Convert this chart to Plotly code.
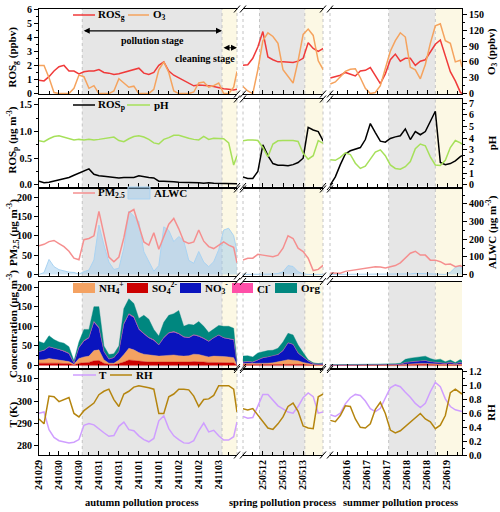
import pandas as pd
import plotly.graph_objects as go

FONT = "Liberation Serif"
W, H = 500, 512

# ---------------- time stamps (3-hourly readings) ----------------
aut_t = list(pd.date_range("2024-10-29 12:00", periods=40, freq="3h")) + [pd.Timestamp("2024-11-03 11:00")]
spr_t = list(pd.date_range("2025-05-12 00:00", periods=17, freq="3h"))
sum_t = list(pd.date_range("2025-06-16 02:00", periods=27, freq="3h")) + [pd.Timestamp("2025-06-19 09:00")]
TIMES = [aut_t, spr_t, sum_t]

# range start, pollution-stage start, cleaning-stage start, range end
aut_stage = ["2024-10-29 11:59", "2024-10-30 14:00", "2024-11-03 02:00", "2024-11-03 11:00"]
spr_stage = ["2025-05-12 00:10", "2025-05-12 10:00", "2025-05-13 13:00", "2025-05-13 23:50"]
sum_stage = ["2025-06-16 01:48", "2025-06-17 13:00", "2025-06-18 17:00", "2025-06-19 09:00"]
STAGES = [aut_stage, spr_stage, sum_stage]
process_labels = ["autumn pollution process", "spring pollution process", "summer pollution process"]

# ---------------- panel 1 ----------------
ROSg_aut = [0.95,0.9,1.2,1.6,1.9,2.0,1.6,1.6,1.4,1.55,1.6,1.6,1.7,1.5,1.45,1.35,1.4,1.5,1.65,1.75,
            1.8,1.45,1.35,1.5,2.0,2.25,1.6,1.3,1.1,0.9,0.7,0.55,0.6,0.6,0.55,0.5,0.4,0.35,0.3,0.25,0.3]
ROSg_spr = [2.0,2.05,2.5,3.3,4.4,2.6,2.4,2.25,2.25,2.2,2.2,2.3,2.5,3.6,3.2,3.0,3.2]
ROSg_sum = [1.1,1.2,1.3,1.5,1.4,1.25,1.6,1.65,1.85,1.3,0.7,1.4,2.4,2.8,2.3,2.5,2.5,2.0,2.3,2.4,
            3.0,3.5,3.8,2.6,1.55,0.9,0.1,0.0]
O3_aut = [53,53,30,2,0,0,0,10,35,32,10,15,0,0,0,5,28,20,12,14,0,0,0,8,45,60,40,5,0,0,
          0,3,20,22,12,15,20,0,0,12,42]
O3_spr = [14,5,0,45,100,115,108,95,45,32,20,62,112,122,110,62,45]
O3_sum = [18,22,32,42,46,47,30,10,0,2,15,47,80,100,115,107,50,45,28,55,95,128,132,100,95,60,63,50]

# ---------------- panel 2 ----------------
ROSp_aut = [0.07,0.04,0.05,0.07,0.09,0.11,0.14,0.18,0.22,0.26,0.3,0.2,0.17,0.16,0.15,0.14,0.13,0.14,0.14,0.14,
            0.17,0.15,0.14,0.13,0.07,0.07,0.07,0.06,0.05,0.05,0.04,0.04,0.04,0.03,0.04,0.03,0.03,0.02,0.02,0.02,0.02]
ROSp_spr = [0.15,0.12,0.12,0.25,0.75,0.55,0.4,0.37,0.37,0.36,0.38,0.42,0.5,1.08,1.03,1.0,0.82]
ROSp_sum = [0.0,0.15,0.38,0.58,0.64,0.67,0.7,0.85,1.15,0.98,0.82,0.8,0.87,0.9,0.92,1.05,0.85,1.0,0.94,1.0,
            1.2,1.38,0.42,0.38,0.4,0.45,0.53,0.55]
pH_aut = [3.78,3.7,3.95,4.15,4.2,4.1,3.95,3.85,3.9,3.85,3.9,3.85,3.9,3.95,4.05,4.1,3.8,3.7,3.95,4.15,
          4.2,4.1,3.9,3.6,3.5,3.9,4.05,4.25,4.25,4.1,4.0,3.9,3.85,4.15,3.9,4.0,3.95,3.95,3.6,1.7,2.5]
pH_spr = [3.78,3.85,3.85,3.8,3.2,2.4,3.5,3.78,3.8,3.82,3.8,3.72,2.7,2.2,2.5,3.8,3.55]
pH_sum = [2.15,2.1,2.35,2.75,2.6,1.85,1.4,1.6,2.2,2.8,3.0,2.5,1.7,1.4,1.33,1.55,2.0,3.1,3.5,3.35,
          2.4,1.7,1.65,2.1,3.2,3.8,3.6,3.5]

# ---------------- panel 3 ----------------
PM_aut = [74,78,85,88,80,72,60,42,38,90,93,100,163,100,45,33,45,95,160,168,125,84,76,108,65,98,130,145,118,86,
          80,84,115,86,72,67,75,84,76,70,30]
PM_spr = [37,42,42,52,50,47,46,50,68,100,93,68,59,42,10,13,24]
PM_sum = [4,3,3,8,10,13,15,17,18,20,19,17,20,23,30,42,55,60,50,50,37,37,33,26,27,20,23,20]
ALWC_aut = [0,10,85,44,27,18,13,11,2,15,25,82,280,167,70,28,35,150,360,330,300,129,70,18,50,270,250,186,215,190,
            80,63,130,70,44,72,140,252,262,220,130]
ALWC_spr = [0,0,0,0,0,0,2,5,15,50,45,15,3,0,0,0,0]
ALWC_sum = [0,0,0,0,0,0,0,0,0,0,0,0,0,0,0,0,3,6,5,3,0,0,0,0,12,40,50,30]

# ---------------- panel 4 (species concentrations) ----------------
SO4_aut = [6,6,7,7,6,5,5,2,6,7,8,12,13,6,3,3,5,9,14,13,11,10,9,9,8,8,9,9,9,8,9,10,10,9,8,8,8,8,8,7,0.5]
NH4_aut = [8,9,11,9,8,7,5,1,12,15,16,26,27,9,3,3,9,19,30,27,22,19,18,17,16,17,17,18,16,16,16,19,18,16,14,16,16,15,14,13,0.5]
NO3_aut = [21,23,29,28,26,24,20,3,27,40,46,72,55,20,10,14,21,77,86,82,59,51,43,38,28,45,56,58,55,48,45,48,46,43,39,46,53,47,46,45,1]
Cl_aut = [1,1,1,1,1,1,1,0.5,1,1.5,1.5,2,2,1,0.5,0.5,1,2,2,2,1.5,1.5,1.5,1.5,1,1.5,1.5,1.5,1.5,1.5,1.5,1.5,1.5,1.5,1,1,1,1,1,1,0.2]
Org_aut = [25,18,28,21,19,20,17,5.5,14,28.5,20.5,38,53,14,11.5,9.5,14,38,38,34,26.5,46.5,46.5,26.5,22,38.5,44.5,45.5,58.5,26.5,
           33.5,24.5,36.5,30.5,22,21,24,29,31,29,1]
SO4_spr = [2.5,2.5,2.5,2.5,2.5,3,3,3,3.5,4,4,3.5,3,2,1,1,1]
NH4_spr = [2.5,2.5,2.5,2.5,2.5,3,4,6,8.5,11,10,8.5,5,3,1.5,1,1]
NO3_spr = [3.5,4.5,3.5,9.5,14.5,15.5,18.5,18.5,25.5,42.5,39.5,19.5,13.5,6.7,2.3,1.8,2.8]
Cl_spr = [0.5,0.5,0.5,0.5,0.5,0.5,0.5,0.5,0.5,0.5,0.5,0.5,0.5,0.3,0.2,0.2,0.2]
Org_spr = [15,15,13,17,15,16,13,16,22,24,24,20,11,3,2,1,2]
SO4_sum = [0.5,0.5,0.5,0.5,0.6,0.6,0.6,0.6,0.7,0.6,0.6,0.6,0.7,0.8,1.0,2,2.5,3,3,3,2.5,2,2,1.5,2,1.5,2,1.5]
NH4_sum = [0.3,0.3,0.3,0.3,0.3,0.3,0.4,0.4,0.5,0.4,0.4,0.4,0.4,0.5,0.8,1.5,2,2,2.5,2.5,2,2,2,1.5,2,1,2,1.5]
NO3_sum = [0.2,0.2,0.2,0.3,0.3,0.3,0.3,0.3,0.4,0.3,0.3,0.3,0.4,0.5,1.0,4,5,5.5,6,7,5,4,4,2.5,4,2,4,3]
Cl_sum = [0.1,0.1,0.1,0.1,0.1,0.1,0.1,0.1,0.1,0.1,0.1,0.1,0.1,0.1,0.2,0.3,0.3,0.3,0.3,0.3,0.3,0.3,0.3,0.2,0.3,0.2,0.3,0.2]
Org_sum = [0.8,1.0,1.0,1.2,1.5,1.5,1.8,2.0,2.5,1.8,1.6,1.8,2.0,2.5,3.0,8,9,9.5,10,11,8,6,8,4,6,3,7,6]

# ---------------- panel 5 ----------------
T_aut = [294.4,295,287,283.5,282,281.5,281,281.3,282.5,289,289.8,289.2,287.2,285.6,284,284.3,288.5,290.4,287,286.5,
         284.2,282.5,281.5,283,291,293.3,287.5,284.2,282.5,281,280.8,282,286.5,290,286,286.7,284.2,282.3,282.3,283.8,290.5]
T_spr = [293,292.2,292.5,297.8,303,303,300.5,297.8,296.4,295,294.5,297.5,301.5,303.7,302,294.5,295]
T_sum = [293.8,293,294.5,298.7,301.5,303,302.5,300,296.5,295.2,296.7,301,306,307.3,306.5,304,301.7,298.9,297,299,
         304.2,308.4,306.5,301,297.5,296,295.2,295.2]
RH_aut = [0.52,0.45,0.85,0.84,0.77,0.8,0.83,0.6,0.55,0.64,0.69,0.75,0.87,0.92,0.95,0.8,0.7,0.88,0.92,0.98,
          1.0,0.99,0.97,0.95,0.6,0.6,0.84,0.88,0.95,0.95,0.94,0.85,0.7,0.8,0.81,0.86,1.0,1.0,1.0,0.95,0.62]
RH_spr = [0.67,0.65,0.67,0.58,0.49,0.39,0.37,0.45,0.55,0.7,0.75,0.63,0.42,0.39,0.38,0.84,0.88]
RH_sum = [0.5,0.48,0.57,0.71,0.7,0.52,0.4,0.39,0.45,0.66,0.76,0.6,0.36,0.32,0.35,0.41,0.47,0.53,0.6,0.52,
          0.48,0.38,0.43,0.57,0.9,0.95,0.9,0.88]

# ---------------- layout geometry (pixels) ----------------
COLS = [(39, 237), (243, 323), (330, 462)]
ROWS = [(9, 94), (99, 186.5), (189, 276), (281.5, 367.5), (369.5, 455)]
LEFT_TITLE_Y = [57, 140, 232.5, 324.5, 415]
PROCESS_X = [142, 282, 400]
GRAY, YELLOW, DOT = "#e6e6e6", "#fcf8e4", "#c4c4c4"

def px(x): return x / W
def py(y): return 1 - y / H
def akey(p, n): return f"{p}axis" if n == 1 else f"{p}axis{n}"
def aref(p, n): return p if n == 1 else f"{p}{n}"

C = dict(ROSg="#f03a3a", O3="#f5a35e", ROSp="#000000", pH="#a6e05a", PM="#f58f8f",
         ALWC_line="#a9d3f2", ALWC_fill="rgba(150,200,238,0.45)",
         NH4="#f4a262", SO4="#cc0000", NO3="#0a14be", Cl="#ff4fa8", Org="#00877f",
         T="#cf9eff", RH="#b5850f")

# legend layout: (symbol start, symbol end, text start) in px, row legend centre y
ROW_SPECS = [
    dict(base="left", leg_y=15,
         left=dict(range=[-0.03, 6], dtick=1, minor=0.5, fmt="d", title="ROS<sub>g</sub> (ppbv)"),
         right=dict(range=[-0.8, 160], dtick=30, minor=15, fmt="d", title="O<sub>3</sub> (ppbv)"),
         series=[("ROS<sub>g</sub>", [ROSg_aut, ROSg_spr, ROSg_sum], C["ROSg"], "left", "line", (73, 95, 96)),
                 ("O<sub>3</sub>", [O3_aut, O3_spr, O3_sum], C["O3"], "right", "line", (128, 149, 151))]),
    dict(base="left", leg_y=105,
         left=dict(range=[-0.03, 1.61], dtick=0.5, minor=0.25, fmt=".1f", title="ROS<sub>p</sub> (μg m<sup>-3</sup>)"),
         right=dict(range=[-0.15, 7.37], dtick=1, minor=0.5, fmt="d", title="pH"),
         series=[("ROS<sub>p</sub>", [ROSp_aut, ROSp_spr, ROSp_sum], C["ROSp"], "left", "line", (73, 95, 96)),
                 ("pH", [pH_aut, pH_spr, pH_sum], C["pH"], "right", "line", (127, 150, 152))]),
    dict(base="right", leg_y=193,
         left=dict(range=[-4, 221], dtick=50, minor=25, fmt="d", title="PM<sub>2.5</sub> (μg m<sup>-3</sup>)"),
         right=dict(range=[-9, 485], dtick=100, minor=50, fmt="d", title="ALWC (μg m<sup>-3</sup>)"),
         series=[("ALWC", [ALWC_aut, ALWC_spr, ALWC_sum], C["ALWC_line"], "right", "area", (128, 150, 152)),
                 ("PM<sub>2.5</sub>", [PM_aut, PM_spr, PM_sum], C["PM"], "left", "line", (73, 95, 96))]),
    dict(base="left", leg_y=288,
         left=dict(range=[-5, 214], dtick=50, minor=25, fmt="d", title="Concentration (μg m<sup>-3</sup>)"),
         right=dict(range=[-5, 214], dtick=50, minor=25, fmt="d", title="", ticks="inside", labels=False),
         series=[("SO<sub>4</sub><sup>2-</sup>", [SO4_aut, SO4_spr, SO4_sum], C["SO4"], "left", "stack", (127, 148, 150)),
                 ("NH<sub>4</sub><sup>+</sup>", [NH4_aut, NH4_spr, NH4_sum], C["NH4"], "left", "stack", (73, 95, 97)),
                 ("NO<sub>3</sub><sup>-</sup>", [NO3_aut, NO3_spr, NO3_sum], C["NO3"], "left", "stack", (180, 201, 203)),
                 ("Cl<sup>-</sup>", [Cl_aut, Cl_spr, Cl_sum], C["Cl"], "left", "stack", (232, 253, 255)),
                 ("Org", [Org_aut, Org_spr, Org_sum], C["Org"], "left", "stack", (275, 297, 299))]),
    dict(base="left", leg_y=375,
         left=dict(range=[275.5, 314.3], dtick=10, minor=5, fmt="d", title="T (K)"),
         right=dict(range=[0, 1.234], dtick=0.2, minor=0.1, fmt=".1f", title="RH"),
         series=[("T", [T_aut, T_spr, T_sum], C["T"], "left", "line", (73, 96, 97)),
                 ("RH", [RH_aut, RH_spr, RH_sum], C["RH"], "right", "line", (110, 132, 134))]),
]

TICKFONT = dict(family=FONT, size=10, color="black", weight="bold")
TXT11 = dict(family=FONT, size=11, color="black", weight="bold")

def yaxis_dict(s, side, c):
    shown = (side == "left" and c == 0) or (side == "right" and c == 2)
    d = dict(range=s["range"], side=side, showgrid=False, zeroline=False, fixedrange=True)
    if shown:
        tk = s.get("ticks", "outside")
        d.update(showline=True, linecolor="black", linewidth=1, ticks=tk, ticklen=4,
                 tickcolor="black", tick0=0, dtick=s["dtick"], tickformat=s["fmt"],
                 showticklabels=s.get("labels", True), tickfont=TICKFONT,
                 minor=dict(dtick=s["minor"], ticks=tk, ticklen=2, tickcolor="black"))
    else:
        d.update(showline=False, ticks="", showticklabels=False)
    return d

layout = dict(width=W, height=H, margin=dict(l=0, r=0, t=0, b=0), autosize=False,
              paper_bgcolor="white", plot_bgcolor="white", template="none", showlegend=False,
              font=dict(family=FONT, size=10, color="black", weight="bold"))
shapes, annotations, traces = [], [], []

for r, spec in enumerate(ROW_SPECS):
    top, bot = ROWS[r]
    over_side = "right" if spec["base"] == "left" else "left"
    for c in range(3):
        i = r * 3 + c
        xn, yb, yo = i + 1, i + 1, i + 16
        st = STAGES[c]
        layout[akey("x", xn)] = dict(
            domain=[px(COLS[c][0]), px(COLS[c][1])], anchor=aref("y", yb), type="date",
            range=[st[0], st[3]], showline=True, mirror=True, linecolor="black", linewidth=1,
            ticks="inside", ticklen=4, tickcolor="black", tick0="2024-10-29", dtick=43200000,
            tickformat="%y%m%d", showticklabels=(r == 4), tickangle=-90, tickfont=TICKFONT,
            minor=dict(dtick=21600000, ticks="inside", ticklen=3, tickcolor="black"),
            showgrid=False, zeroline=False, fixedrange=True)
        yb_d = yaxis_dict(spec[spec["base"]], spec["base"], c)
        yb_d.update(domain=[py(bot), py(top)], anchor=aref("x", xn))
        layout[akey("y", yb)] = yb_d
        yo_d = yaxis_dict(spec[over_side], over_side, c)
        yo_d.update(overlaying=aref("y", yb), anchor=aref("x", xn))
        layout[akey("y", yo)] = yo_d

        xr, ydom = aref("x", xn), aref("y", yb) + " domain"
        shapes.append(dict(type="rect", xref=xr, yref=ydom, x0=st[1], x1=st[2], y0=0, y1=1,
                           fillcolor=GRAY, line=dict(width=0), layer="below"))
        shapes.append(dict(type="rect", xref=xr, yref=ydom, x0=st[2], x1=st[3], y0=0, y1=1,
                           fillcolor=YELLOW, line=dict(width=0), layer="below"))
        for xv in (st[1], st[2]):
            shapes.append(dict(type="line", xref=xr, yref=ydom, x0=xv, x1=xv, y0=0, y1=1,
                               line=dict(color=DOT, width=1, dash="dot"), layer="below"))
        edges = [1] if c == 0 else ([0, 1] if c == 1 else [0])
        for e in edges:
            shapes.append(dict(type="line", xref=xr + " domain", yref=ydom, x0=e, x1=e, y0=0, y1=1,
                               line=dict(color=DOT, width=1, dash="dot"), layer="below"))

        for name, arrs, color, side, kind, _ in spec["series"]:
            yn = yb if side == spec["base"] else yo
            tr = dict(x=TIMES[c], y=arrs[c], name=name, xaxis=aref("x", xn), yaxis=aref("y", yn),
                      showlegend=False, hoverinfo="skip")
            if kind == "line":
                tr.update(mode="lines", line=dict(color=color, width=1.5))
            elif kind == "area":
                tr.update(mode="lines", fill="tozeroy", fillcolor=C["ALWC_fill"],
                          line=dict(color=color, width=1))
            else:
                tr.update(mode="lines", stackgroup=f"s{c}", fillcolor=color,
                          line=dict(color=color, width=0.4))
            traces.append(go.Scatter(**tr))

    # legend (swatch + label) for this panel
    ly = spec["leg_y"]
    for name, arrs, color, side, kind, (s0, s1, tx) in spec["series"]:
        if kind == "line":
            shapes.append(dict(type="line", xref="paper", yref="paper", x0=px(s0), x1=px(s1),
                               y0=py(ly), y1=py(ly), line=dict(color=color, width=1.5)))
        else:
            hh = 6 if kind == "area" else 5
            shapes.append(dict(type="rect", xref="paper", yref="paper", x0=px(s0), x1=px(s1),
                               y0=py(ly + hh), y1=py(ly - hh),
                               fillcolor=C["ALWC_fill"] if kind == "area" else color,
                               line=dict(color=color, width=1 if kind == "area" else 0)))
        annotations.append(dict(text=name, x=px(tx), y=py(ly), xref="paper", yref="paper",
                                xanchor="left", yanchor="middle", showarrow=False, font=TXT11))

    # axis titles
    annotations.append(dict(text=spec["left"]["title"], x=px(12.5), y=py(LEFT_TITLE_Y[r]),
                            xref="paper", yref="paper", textangle=-90, showarrow=False,
                            xanchor="center", yanchor="middle", font=TXT11))
    if spec["right"]["title"]:
        annotations.append(dict(text=spec["right"]["title"], x=px(491.5), y=py((top + bot) / 2),
                                xref="paper", yref="paper", textangle=-90, showarrow=False,
                                xanchor="center", yanchor="middle", font=TXT11))
    # axis breaks
    for gx in (COLS[0][1], COLS[1][0], COLS[1][1], COLS[2][0]):
        for yy in (top, bot):
            shapes.append(dict(type="line", xref="paper", yref="paper",
                               x0=px(gx - 3), y0=py(yy + 3.5), x1=px(gx + 3), y1=py(yy - 3.5),
                               line=dict(color="black", width=1)))

# process labels
for c in range(3):
    annotations.append(dict(text=process_labels[c], x=px(PROCESS_X[c]), y=py(502),
                            xref="paper", yref="paper", showarrow=False, xanchor="center", yanchor="middle",
                            font=dict(family=FONT, size=10.5, color="black", weight="bold")))

# stage arrows / labels (top panel, autumn)
g0, g1, g2 = pd.Timestamp(aut_stage[1]), pd.Timestamp(aut_stage[2]), pd.Timestamp(aut_stage[3])
arrow = dict(xref="x", yref="y", axref="x", ayref="y", showarrow=True, arrowhead=2, arrowside="end+start",
             arrowsize=1, arrowwidth=1.2, arrowcolor="black", text="", standoff=0, startstandoff=0)
annotations.append(dict(arrow, x=g1, ax=g0, y=4.45, ay=4.45))
annotations.append(dict(arrow, x=g2, ax=g1, y=3.25, ay=3.25))
annotations.append(dict(text="pollution stage", x=g0 + (g1 - g0) / 2, y=3.8, xref="x", yref="y",
                        showarrow=False, font=dict(family=FONT, size=10, color="black", weight="bold")))
annotations.append(dict(text="cleaning stage", x=g2, y=2.52, xref="x", yref="y", xanchor="right",
                        showarrow=False, font=dict(family=FONT, size=10, color="black", weight="bold")))

layout["shapes"] = shapes
layout["annotations"] = annotations
fig = go.Figure(data=traces, layout=layout)
fig.write_html("out.html")
